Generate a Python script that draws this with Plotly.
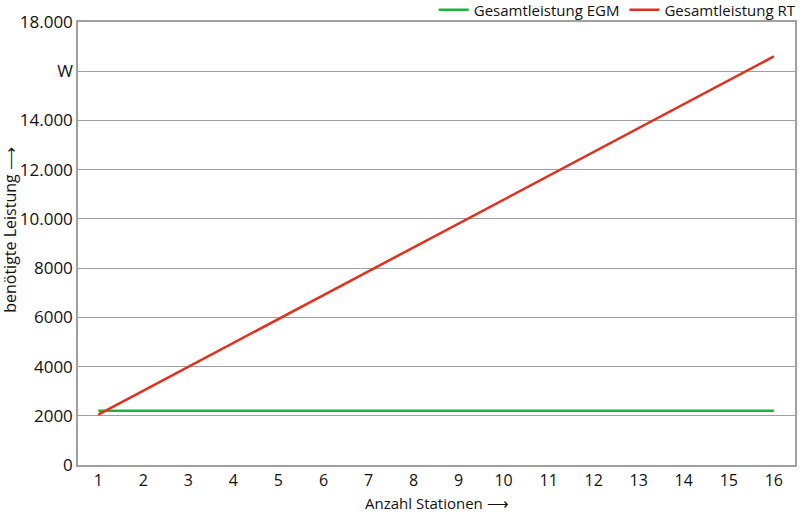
import plotly.graph_objects as go

stations = list(range(1, 17))
egm = [2200] * 16
rt = [2050, 3020, 3990, 4960, 5930, 6900, 7870, 8840, 9810, 10780, 11750, 12720, 13690, 14660, 15630, 16600]
y_tickvals = [0, 2000, 4000, 6000, 8000, 10000, 12000, 14000, 16000, 18000]
y_ticktext = ["0", "2000", "4000", "6000", "8000", "10.000", "12.000", "14.000", "W", "18.000"]

FONT = "Open Sans"
fig = go.Figure()
fig.add_trace(go.Scatter(x=stations, y=egm, mode="lines", name="Gesamtleistung EGM",
                         line=dict(color="#1db43a", width=2.5)))
fig.add_trace(go.Scatter(x=stations, y=rt, mode="lines", name="Gesamtleistung RT",
                         line=dict(color="#e0301e", width=2.5)))

fig.update_layout(
    width=800, height=512,
    margin=dict(l=78, r=5, t=22, b=47, autoexpand=False),
    plot_bgcolor="white", paper_bgcolor="white",
    font=dict(family=FONT, size=17, color="#111111"),
    showlegend=True,
    legend=dict(orientation="h", x=1.008, xanchor="right", y=1.027, yanchor="middle",
                font=dict(size=15, family=FONT), bgcolor="rgba(0,0,0,0)",
                itemwidth=30, traceorder="normal"),
    xaxis=dict(range=[0.55, 16.47], tickvals=stations, showgrid=False, zeroline=False,
               showline=True, linecolor="#a0a0a0", linewidth=1.5, mirror=True,
               ticks="", tickfont=dict(size=16, family=FONT)),
    yaxis=dict(range=[0, 18000], tickvals=y_tickvals, ticktext=y_ticktext,
               showgrid=True, gridcolor="#a0a0a0", gridwidth=1.2, zeroline=False,
               showline=True, linecolor="#a0a0a0", linewidth=1.5, mirror=True,
               ticks="", tickfont=dict(size=17, family=FONT)),
)
fig.add_annotation(text="benötigte Leistung ⟶", xref="paper", yref="paper",
                   x=-0.094, y=0.53, textangle=-90, showarrow=False,
                   font=dict(size=16, family=FONT), xanchor="center", yanchor="middle")
fig.add_annotation(text="Anzahl Stationen ⟶", xref="paper", yref="paper",
                   x=0.5, y=-0.086, showarrow=False,
                   font=dict(size=15, family=FONT), xanchor="center", yanchor="middle")
fig.write_html("out.html")
